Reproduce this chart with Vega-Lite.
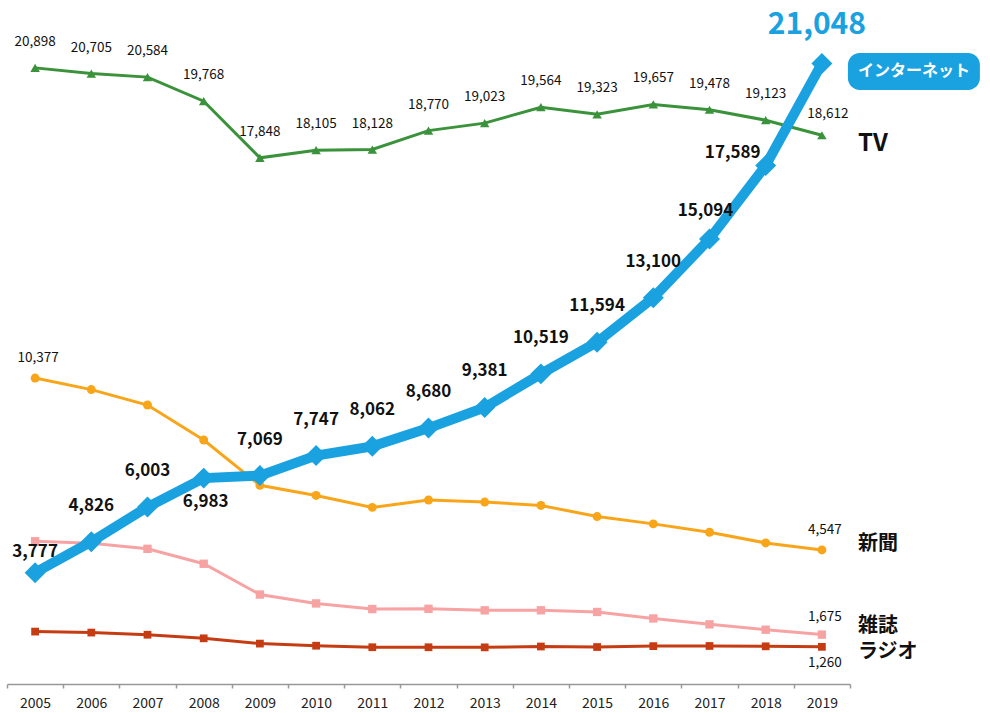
{
  "$schema": "https://vega.github.io/schema/vega-lite/v6.json",
  "width": 843,
  "height": 684,
  "autosize": {"type": "none"},
  "padding": {"left": 7, "top": 0, "right": 140, "bottom": 29},
  "background": "white",
  "config": {"view": {"stroke": null}, "font": "Noto Sans CJK JP", "text": {"font": "Noto Sans CJK JP"}},
  "data": {"values": [
    {"year": "2005", "media": "TV", "value": 20898},
    {"year": "2006", "media": "TV", "value": 20705},
    {"year": "2007", "media": "TV", "value": 20584},
    {"year": "2008", "media": "TV", "value": 19768},
    {"year": "2009", "media": "TV", "value": 17848},
    {"year": "2010", "media": "TV", "value": 18105},
    {"year": "2011", "media": "TV", "value": 18128},
    {"year": "2012", "media": "TV", "value": 18770},
    {"year": "2013", "media": "TV", "value": 19023},
    {"year": "2014", "media": "TV", "value": 19564},
    {"year": "2015", "media": "TV", "value": 19323},
    {"year": "2016", "media": "TV", "value": 19657},
    {"year": "2017", "media": "TV", "value": 19478},
    {"year": "2018", "media": "TV", "value": 19123},
    {"year": "2019", "media": "TV", "value": 18612},
    {"year": "2005", "media": "新聞", "value": 10377},
    {"year": "2006", "media": "新聞", "value": 9986},
    {"year": "2007", "media": "新聞", "value": 9462},
    {"year": "2008", "media": "新聞", "value": 8276},
    {"year": "2009", "media": "新聞", "value": 6739},
    {"year": "2010", "media": "新聞", "value": 6396},
    {"year": "2011", "media": "新聞", "value": 5990},
    {"year": "2012", "media": "新聞", "value": 6242},
    {"year": "2013", "media": "新聞", "value": 6170},
    {"year": "2014", "media": "新聞", "value": 6057},
    {"year": "2015", "media": "新聞", "value": 5679},
    {"year": "2016", "media": "新聞", "value": 5431},
    {"year": "2017", "media": "新聞", "value": 5147},
    {"year": "2018", "media": "新聞", "value": 4784},
    {"year": "2019", "media": "新聞", "value": 4547},
    {"year": "2005", "media": "雑誌", "value": 4842},
    {"year": "2006", "media": "雑誌", "value": 4777},
    {"year": "2007", "media": "雑誌", "value": 4585},
    {"year": "2008", "media": "雑誌", "value": 4078},
    {"year": "2009", "media": "雑誌", "value": 3034},
    {"year": "2010", "media": "雑誌", "value": 2733},
    {"year": "2011", "media": "雑誌", "value": 2542},
    {"year": "2012", "media": "雑誌", "value": 2551},
    {"year": "2013", "media": "雑誌", "value": 2499},
    {"year": "2014", "media": "雑誌", "value": 2500},
    {"year": "2015", "media": "雑誌", "value": 2443},
    {"year": "2016", "media": "雑誌", "value": 2223},
    {"year": "2017", "media": "雑誌", "value": 2023},
    {"year": "2018", "media": "雑誌", "value": 1841},
    {"year": "2019", "media": "雑誌", "value": 1675},
    {"year": "2005", "media": "ラジオ", "value": 1778},
    {"year": "2006", "media": "ラジオ", "value": 1744},
    {"year": "2007", "media": "ラジオ", "value": 1671},
    {"year": "2008", "media": "ラジオ", "value": 1549},
    {"year": "2009", "media": "ラジオ", "value": 1370},
    {"year": "2010", "media": "ラジオ", "value": 1299},
    {"year": "2011", "media": "ラジオ", "value": 1247},
    {"year": "2012", "media": "ラジオ", "value": 1246},
    {"year": "2013", "media": "ラジオ", "value": 1243},
    {"year": "2014", "media": "ラジオ", "value": 1272},
    {"year": "2015", "media": "ラジオ", "value": 1254},
    {"year": "2016", "media": "ラジオ", "value": 1285},
    {"year": "2017", "media": "ラジオ", "value": 1290},
    {"year": "2018", "media": "ラジオ", "value": 1278},
    {"year": "2019", "media": "ラジオ", "value": 1260},
    {"year": "2005", "media": "インターネット", "value": 3777},
    {"year": "2006", "media": "インターネット", "value": 4826},
    {"year": "2007", "media": "インターネット", "value": 6003},
    {"year": "2008", "media": "インターネット", "value": 6983},
    {"year": "2009", "media": "インターネット", "value": 7069},
    {"year": "2010", "media": "インターネット", "value": 7747},
    {"year": "2011", "media": "インターネット", "value": 8062},
    {"year": "2012", "media": "インターネット", "value": 8680},
    {"year": "2013", "media": "インターネット", "value": 9381},
    {"year": "2014", "media": "インターネット", "value": 10519},
    {"year": "2015", "media": "インターネット", "value": 11594},
    {"year": "2016", "media": "インターネット", "value": 13100},
    {"year": "2017", "media": "インターネット", "value": 15094},
    {"year": "2018", "media": "インターネット", "value": 17589},
    {"year": "2019", "media": "インターネット", "value": 21048}
  ]},
  "encoding": {
    "x": {
      "field": "year", "type": "ordinal",
      "scale": {"type": "band", "paddingInner": 0, "paddingOuter": 0},
      "axis": {"title": null, "labelAngle": 0, "labelFontSize": 14, "labelColor": "#222", "labelFont": "Noto Sans CJK JP",
               "domainColor": "#999", "domainWidth": 1.5, "tickColor": "#999", "tickSize": 4, "tickWidth": 1.5,
               "tickBand": "extent", "labelPadding": 8, "grid": false}
    },
    "y": {"field": "value", "type": "quantitative", "scale": {"domain": [0, 23200], "nice": false}, "axis": null}
  },
  "layer": [
    {
      "transform": [{"filter": "datum.media !== 'インターネット'"}],
      "mark": {"type": "line"},
      "encoding": {
        "color": {"field": "media", "type": "nominal", "legend": null,
                  "scale": {"domain": ["TV", "新聞", "雑誌", "ラジオ"], "range": ["#3a923a", "#f9a51a", "#f7a3a3", "#c63c12"]}},
        "strokeWidth": {"field": "media", "type": "nominal", "legend": null,
                  "scale": {"domain": ["TV", "新聞", "雑誌", "ラジオ"], "range": [3, 3, 3.5, 3.5]}}
      }
    },
    {
      "transform": [{"filter": "datum.media !== 'インターネット'"}],
      "mark": {"type": "point", "filled": true, "opacity": 1},
      "encoding": {
        "color": {"field": "media", "type": "nominal", "legend": null,
                  "scale": {"domain": ["TV", "新聞", "雑誌", "ラジオ"], "range": ["#3a923a", "#f9a51a", "#f7a3a3", "#c63c12"]}},
        "shape": {"field": "media", "type": "nominal", "legend": null,
                  "scale": {"domain": ["TV", "新聞", "雑誌", "ラジオ"], "range": ["triangle-up", "circle", "square", "square"]}},
        "size": {"field": "media", "type": "nominal", "legend": null,
                  "scale": {"domain": ["TV", "新聞", "雑誌", "ラジオ"], "range": [90, 60, 90, 90]}}
      }
    },
    {
      "transform": [{"filter": "datum.media === 'インターネット'"}],
      "mark": {"type": "line", "color": "#1aa1df", "strokeWidth": 10}
    },
    {
      "transform": [{"filter": "datum.media === 'インターネット'"}],
      "mark": {"type": "point", "shape": "diamond", "filled": true, "color": "#1aa1df", "size": 440, "opacity": 1}
    },
    {
      "transform": [{"filter": "datum.media === 'TV' && datum.year !== '2019'"}],
      "mark": {"type": "text", "dy": -26, "fontSize": 13.5, "color": "#111", "baseline": "middle"},
      "encoding": {"text": {"field": "value", "type": "quantitative", "format": ","}}
    },
    {
      "transform": [{"filter": "datum.media === 'TV' && datum.year === '2019'"}],
      "mark": {"type": "text", "dy": -21, "dx": 6, "fontSize": 13.5, "color": "#111", "baseline": "middle"},
      "encoding": {"text": {"field": "value", "type": "quantitative", "format": ","}}
    },
    {
      "transform": [{"filter": "datum.media === '新聞' && (datum.year === '2005' || datum.year === '2019')"}],
      "mark": {"type": "text", "dy": -20, "dx": 3, "fontSize": 13.5, "color": "#111", "baseline": "middle"},
      "encoding": {"text": {"field": "value", "type": "quantitative", "format": ","}}
    },
    {
      "transform": [{"filter": "datum.media === '雑誌' && datum.year === '2019'"}],
      "mark": {"type": "text", "dy": -18, "dx": 3, "fontSize": 13.5, "color": "#111", "baseline": "middle"},
      "encoding": {"text": {"field": "value", "type": "quantitative", "format": ","}}
    },
    {
      "transform": [{"filter": "datum.media === 'ラジオ' && datum.year === '2019'"}],
      "mark": {"type": "text", "dy": 16, "dx": 3, "fontSize": 13.5, "color": "#111", "baseline": "middle"},
      "encoding": {"text": {"field": "value", "type": "quantitative", "format": ","}}
    },
    {
      "transform": [{"filter": "datum.media === 'インターネット' && indexof(['2005','2008','2017','2018','2019'], datum.year) < 0"}],
      "mark": {"type": "text", "dy": -36, "fontSize": 17, "fontWeight": "bold", "color": "#111", "baseline": "middle"},
      "encoding": {"text": {"field": "value", "type": "quantitative", "format": ","}}
    },
    {
      "transform": [{"filter": "datum.media === 'インターネット' && datum.year === '2005'"}],
      "mark": {"type": "text", "dy": -21, "fontSize": 17, "fontWeight": "bold", "color": "#111", "baseline": "middle"},
      "encoding": {"text": {"field": "value", "type": "quantitative", "format": ","}}
    },
    {
      "transform": [{"filter": "datum.media === 'インターネット' && datum.year === '2008'"}],
      "mark": {"type": "text", "dy": 24, "dx": 2, "fontSize": 17, "fontWeight": "bold", "color": "#111", "baseline": "middle"},
      "encoding": {"text": {"field": "value", "type": "quantitative", "format": ","}}
    },
    {
      "transform": [{"filter": "datum.media === 'インターネット' && datum.year === '2017'"}],
      "mark": {"type": "text", "dy": -28, "dx": -4, "fontSize": 17, "fontWeight": "bold", "color": "#111", "baseline": "middle"},
      "encoding": {"text": {"field": "value", "type": "quantitative", "format": ","}}
    },
    {
      "transform": [{"filter": "datum.media === 'インターネット' && datum.year === '2018'"}],
      "mark": {"type": "text", "dy": -12, "dx": -33, "fontSize": 17, "fontWeight": "bold", "color": "#111", "baseline": "middle"},
      "encoding": {"text": {"field": "value", "type": "quantitative", "format": ","}}
    },
    {
      "transform": [{"filter": "datum.media === 'インターネット' && datum.year === '2019'"}],
      "mark": {"type": "text", "dy": -38, "dx": -5, "fontSize": 30, "fontWeight": "bold", "color": "#1aa1df", "baseline": "middle"},
      "encoding": {"text": {"field": "value", "type": "quantitative", "format": ","}}
    },
    {
      "transform": [{"filter": "datum.media === 'インターネット' && datum.year === '2019'"}],
      "mark": {"type": "point", "filled": true, "opacity": 1, "color": "#1aa1df", "strokeWidth": 0, "size": 4356,
               "xOffset": 92, "yOffset": 8,
               "shape": "M-1.64,-0.56H1.64A0.36,0.36,0,0,1,2,-0.2V0.2A0.36,0.36,0,0,1,1.64,0.56H-1.64A0.36,0.36,0,0,1,-2,0.2V-0.2A0.36,0.36,0,0,1,-1.64,-0.56Z"}
    },
    {
      "transform": [{"filter": "datum.media === 'インターネット' && datum.year === '2019'"}],
      "mark": {"type": "text", "dx": 92, "dy": 8, "fontSize": 16, "fontWeight": "bold", "color": "white", "baseline": "middle", "align": "center"},
      "encoding": {"text": {"field": "media"}}
    },
    {
      "transform": [{"filter": "datum.media === 'TV' && datum.year === '2019'"}],
      "mark": {"type": "text", "dx": 36, "dy": 9, "fontSize": 24, "fontWeight": "bold", "color": "#111", "baseline": "middle", "align": "left"},
      "encoding": {"text": {"field": "media"}}
    },
    {
      "transform": [{"filter": "datum.media === '新聞' && datum.year === '2019'"}],
      "mark": {"type": "text", "dx": 36, "dy": -6, "fontSize": 20, "fontWeight": "bold", "color": "#111", "baseline": "middle", "align": "left"},
      "encoding": {"text": {"field": "media"}}
    },
    {
      "transform": [{"filter": "datum.media === '雑誌' && datum.year === '2019'"}],
      "mark": {"type": "text", "dx": 36, "dy": -9, "fontSize": 20, "fontWeight": "bold", "color": "#111", "baseline": "middle", "align": "left"},
      "encoding": {"text": {"field": "media"}}
    },
    {
      "transform": [{"filter": "datum.media === 'ラジオ' && datum.year === '2019'"}],
      "mark": {"type": "text", "dx": 36, "dy": 5, "fontSize": 20, "fontWeight": "bold", "color": "#111", "baseline": "middle", "align": "left"},
      "encoding": {"text": {"field": "media"}}
    }
  ]
}
